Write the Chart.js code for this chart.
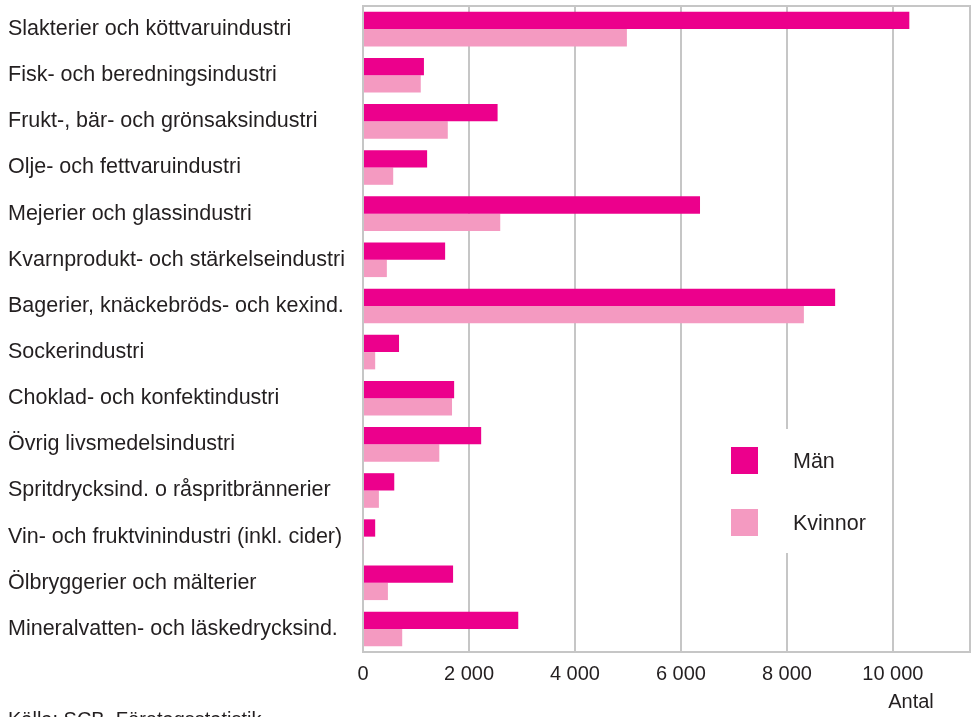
<!DOCTYPE html>
<html>
<head>
<meta charset="utf-8">
<style>
  body { margin: 0; background: #fff; }
  #wrap { width: 971px; height: 717px; position: relative; }
</style>
</head>
<body>
<div id="wrap"><canvas id="bars"></canvas></div>

<script src="https://cdn.jsdelivr.net/npm/chart.js@4.4.1/dist/chart.umd.min.js"></script>
<script>
// Sysselsatta per bransch
var branscher = [
  'Slakterier och köttvaruindustri',
  'Fisk- och beredningsindustri',
  'Frukt-, bär- och grönsaksindustri',
  'Olje- och fettvaruindustri',
  'Mejerier och glassindustri',
  'Kvarnprodukt- och stärkelseindustri',
  'Bagerier, knäckebröds- och kexind.',
  'Sockerindustri',
  'Choklad- och konfektindustri',
  'Övrig livsmedelsindustri',
  'Spritdrycksind. o råspritbrännerier',
  'Vin- och fruktvinindustri (inkl. cider)',
  'Ölbryggerier och mälterier',
  'Mineralvatten- och läskedrycksind.'
];
var man     = [10310, 1150, 2540, 1210, 6360, 1550, 8910, 680, 1720, 2230, 590, 230, 1700, 2930];
var kvinnor = [4980, 1090, 1600, 570, 2590, 450, 8320, 230, 1680, 1440, 300, 15, 470, 740];
var xTicks  = [0, 2000, 4000, 6000, 8000, 10000];

var xMax = 11455;
var grid = '#c6c6c6';
var textColor = '#231f20';
var family = '"Liberation Sans", Arial, sans-serif';

function tusental(v) {
  return String(v).replace(/\B(?=(\d{3})+(?!\d))/g, ' ');
}

// ram runt diagramytan
var ram = {
  id: 'ram',
  beforeDatasetsDraw: function (chart) {
    var a = chart.chartArea, ctx = chart.ctx;
    ctx.save();
    ctx.strokeStyle = grid;
    ctx.lineWidth = 2;
    ctx.strokeRect(a.left, a.top, a.right - a.left, a.bottom - a.top);
    ctx.restore();
  }
};

// förklaring, axeltitel och källa
var texter = {
  id: 'texter',
  afterDraw: function (chart) {
    var ctx = chart.ctx;
    var ds = chart.data.datasets;
    ctx.save();
    ctx.fillStyle = '#fff';
    ctx.fillRect(700, 429, 180, 124);
    ctx.font = '21.5px ' + family;
    ctx.textBaseline = 'middle';
    for (var i = 0; i < ds.length; i++) {
      var y = 447 + i * 62;
      ctx.fillStyle = ds[i].backgroundColor;
      ctx.fillRect(731, y, 27, 27);
      ctx.fillStyle = textColor;
      ctx.textAlign = 'left';
      ctx.fillText(ds[i].label, 793, y + 15);
    }
    ctx.font = '20px ' + family;
    ctx.textAlign = 'center';
    ctx.fillText('Antal', 911, 702);
    ctx.textAlign = 'left';
    ctx.textBaseline = 'alphabetic';
    ctx.fillText('Källa: SCB, Företagsstatistik', 8, 726);
    ctx.restore();
  }
};

new Chart(document.getElementById('bars'), {
  type: 'bar',
  data: {
    labels: branscher,
    datasets: [
      { label: 'Män', data: man, backgroundColor: '#ec008c' },
      { label: 'Kvinnor', data: kvinnor, backgroundColor: '#f49ac1' }
    ]
  },
  options: {
    indexAxis: 'y',
    responsive: true,
    maintainAspectRatio: false,
    animation: false,
    categoryPercentage: 0.75,
    barPercentage: 1,
    layout: { padding: { left: 8, top: 6, right: 1, bottom: 0 } },
    plugins: {
      legend: { display: false },
      tooltip: { enabled: false }
    },
    scales: {
      x: {
        min: 0,
        max: xMax,
        grid: { color: grid, lineWidth: 2, drawTicks: false, tickLength: 0 },
        border: { display: false },
        afterBuildTicks: function (s) {
          s.ticks = xTicks.map(function (v) { return { value: v }; });
        },
        ticks: {
          padding: 10,
          maxRotation: 0,
          autoSkip: false,
          color: textColor,
          font: { family: family, size: 20 },
          callback: function (v) { return tusental(v); }
        },
        afterFit: function (s) { s.height = 65; }
      },
      y: {
        grid: { display: false },
        border: { display: false },
        ticks: {
          crossAlign: 'far',
          padding: 0,
          color: textColor,
          font: { family: family, size: 21.5, lineHeight: 0.55 },
          autoSkip: false
        },
        afterFit: function (s) { s.width = 355; }
      }
    }
  },
  plugins: [ram, texter]
});
</script>
</body>
</html>
